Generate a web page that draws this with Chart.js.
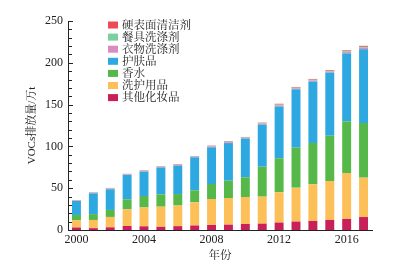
<!DOCTYPE html>
<html><head><meta charset="utf-8">
<script src="https://cdn.jsdelivr.net/npm/chart.js@4/dist/chart.umd.min.js"></script>
<style>html,body{margin:0;padding:0;background:#fff}#wrap{width:393px;height:265px;position:relative}</style>
</head><body><div id="wrap"><canvas id="c" width="393" height="265"></canvas></div>
<script>
const years = ['2000','2001','2002','2003','2004','2005','2006','2007','2008','2009','2010','2011','2012','2013','2014','2015','2016','2017'];
const seriesNames = ['其他化妆品','洗护用品','香水','护肤品','衣物洗涤剂','餐具洗涤剂','硬表面清洁剂'];
const otherCosmetics = [3.0,2.2,3.2,4.8,4.4,3.8,4.6,5.4,6.0,6.4,7.2,7.6,8.9,10.1,10.8,12.0,13.2,15.5];
const hairCare = [8.5,9.8,12.4,19.9,22.6,24.1,24.7,27.7,31.1,31.9,32.3,32.3,36.2,40.5,43.8,46.6,55.0,47.1];
const perfume = [6.5,7.0,8.4,12.0,13.7,14.7,13.7,14.4,17.9,20.7,23.5,35.9,40.7,47.9,49.5,54.2,61.8,65.4];
const skinCare = [16.7,24.8,24.7,29.1,29.1,32.1,33.9,39.4,43.9,45.0,46.3,50.2,61.9,69.8,73.4,75.4,81.3,88.3];
const laundry = [0.5,0.6,0.7,0.6,0.7,0.7,0.9,0.7,0.9,1.0,0.9,1.0,1.4,1.2,1.4,1.4,1.5,1.7];
const dishwash = [0.3,0.4,0.4,0.4,0.4,0.4,0.5,0.4,0.5,0.6,0.5,0.7,0.9,0.8,0.9,0.9,1.0,1.1];
const hardSurface = [0.4,0.4,0.5,0.4,0.5,0.5,0.6,0.5,0.6,0.7,0.6,0.7,1.0,0.8,0.9,0.9,1.1,1.2];
const yTicks = [0,50,100,150,200,250];
const xTickEvery = 4;

const colors = ['#c9205c','#fdbf57','#55b848','#2ea8e0','#d98cc0','#7dcf9d','#ee4a55'];
const seriesData = [otherCosmetics,hairCare,perfume,skinCare,laundry,dishwash,hardSurface];
const FONT = "'Liberation Serif','Noto Serif CJK SC','Noto Sans CJK SC',serif";

const datasets = seriesNames.map((n,i)=>({
  label:n, data:seriesData[i], backgroundColor:colors[i], borderWidth:0,
  categoryPercentage:1, barPercentage:0.53
}));

const innerTicks = {
  id:'innerTicks',
  afterDraw(chart){
    const ctx=chart.ctx, y=chart.scales.y, x=chart.scales.x;
    ctx.save(); ctx.strokeStyle='#222'; ctx.lineWidth=1;
    for(let v=0; v<=250; v+=10){
      const py=Math.round(y.getPixelForValue(v))+0.5;
      const len = (v%50===0)?5:4;
      ctx.beginPath(); ctx.moveTo(x.left, py); ctx.lineTo(x.left+len, py); ctx.stroke();
    }
    ctx.restore();
  }
};

const customLegend = {
  id:'customLegend',
  afterDraw(chart){
    const ctx=chart.ctx;
    ctx.save();
    ctx.font = "11.5px "+FONT;
    ctx.textBaseline='middle';
    const x0=108, y0=25, step=12.1;
    for(let k=0;k<seriesNames.length;k++){
      const i = seriesNames.length-1-k;
      const yy=y0+k*step;
      ctx.fillStyle=colors[i];
      ctx.fillRect(x0, yy-3.5, 10, 7);
      ctx.fillStyle='#222';
      ctx.fillText(seriesNames[i], x0+14, yy+0.5);
    }
    ctx.restore();
  }
};

new Chart(document.getElementById('c'),{
  type:'bar',
  data:{labels:years, datasets},
  options:{
    responsive:false, animation:false,
    layout:{padding:{top:21,right:21,left:26,bottom:0}},
    plugins:{legend:{display:false}, tooltip:{enabled:false}},
    scales:{
      x:{
        stacked:true,
        grid:{display:false, drawTicks:false},
        border:{display:true,color:'#222',width:1},
        ticks:{color:'#222', font:{family:FONT,size:12}, maxRotation:0, autoSkip:false, padding:3,
          callback:(v,i)=> (i%xTickEvery===0? years[i] : '')},
        title:{display:true,text:'年份',color:'#222',font:{family:FONT,size:11.5},padding:{top:0,bottom:2}},
        afterFit:(s)=>{s.height=35;}
      },
      y:{
        stacked:true, min:0, max:250,
        afterBuildTicks:(s)=>{s.ticks=yTicks.map(v=>({value:v}));},
        grid:{display:false, drawTicks:false},
        border:{display:true,color:'#222',width:1},
        ticks:{color:'#222', font:{family:FONT,size:12}, padding:5},
        title:{display:true,text:'VOCs排放量/万t',color:'#222',font:{family:FONT,size:11},padding:{top:0,bottom:0}},
        afterFit:(s)=>{s.width=42;}
      }
    }
  },
  plugins:[innerTicks, customLegend]
});
</script></body></html>
